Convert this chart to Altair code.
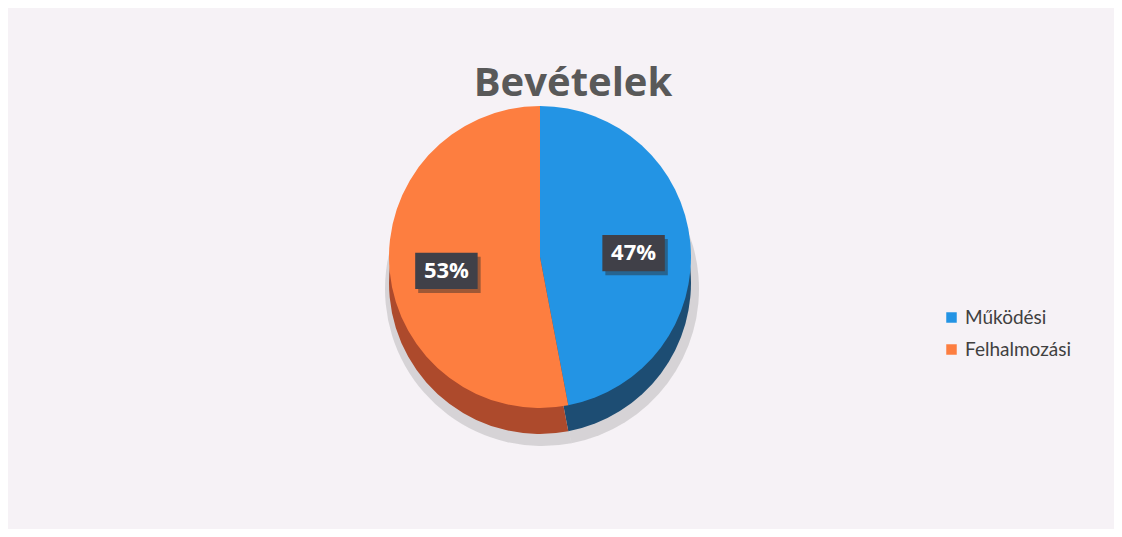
import altair as alt
import pandas as pd

# --- data -------------------------------------------------------------
categories = ["Működési", "Felhalmozási"]
values = [47, 53]
labels = ["47%", "53%"]
order = [1, 2]
title_text = ["Bevételek"]

top_colors = ["#2394e4", "#fd7e40"]
side_colors = ["#1d4d73", "#ad4a2c"]

df = pd.DataFrame({"cat": categories, "value": values, "label": labels, "order": order})

CX, CY, R, DEPTH = 532, 249, 151, 26

base = alt.Chart(df)

theta = alt.Theta("value:Q", stack=True)
ordr = alt.Order("order:Q")

shadow = base.mark_arc(radius=R + 6, color="#9a9a9a", opacity=0.35).encode(
    theta=theta, order=ordr,
    x=alt.value(CX + 2), y=alt.value(CY + DEPTH + 6),
)

side = base.mark_arc(radius=R).encode(
    theta=theta, order=ordr,
    x=alt.value(CX), y=alt.value(CY + DEPTH),
    color=alt.Color("cat:N", scale=alt.Scale(domain=categories, range=side_colors), legend=None),
)

top = base.mark_arc(radius=R).encode(
    theta=theta, order=ordr,
    x=alt.value(CX), y=alt.value(CY),
    color=alt.Color(
        "cat:N",
        scale=alt.Scale(domain=categories, range=top_colors),
        legend=alt.Legend(
            title=None, orient="none", legendX=934, legendY=300,
            symbolType="square", symbolSize=110, labelFont="Lato",
            labelFontSize=19, labelColor="#404040", rowPadding=12,
            symbolStrokeWidth=0,
        ),
    ),
)

lab = base.transform_window(
    cum="sum(value)", sort=[alt.SortField("order")], frame=[None, 0]
).transform_joinaggregate(total="sum(value)").transform_calculate(
    mid="(datum.cum - datum.value/2) / datum.total * 2 * PI",
).transform_calculate(
    lx=f"{CX} + 94 * sin(datum.mid)",
    ly=f"{CY} - 94 * cos(datum.mid) + 5",
)

box_shape = "M-1,-0.58L1,-0.58L1,0.58L-1,0.58Z"
box_shadow = lab.mark_point(shape=box_shape, size=3900, filled=True, color="#2b2b2b",
                            opacity=0.45, xOffset=3, yOffset=4).encode(
    x=alt.X("lx:Q", scale=None), y=alt.Y("ly:Q", scale=None))
box = lab.mark_point(shape=box_shape, size=3900, filled=True, color="#404048",
                     opacity=1).encode(
    x=alt.X("lx:Q", scale=None), y=alt.Y("ly:Q", scale=None))
txt = lab.mark_text(font="Open Sans", fontWeight="bold", fontSize=22, color="white",
                    baseline="middle", align="center").encode(
    x=alt.X("lx:Q", scale=None), y=alt.Y("ly:Q", scale=None), text="label:N")

tdf = pd.DataFrame({"t": title_text})
title = alt.Chart(tdf).mark_text(font="Open Sans", fontWeight="bold", fontSize=40,
                                 color="#595959", align="center", baseline="alphabetic").encode(
    x=alt.value(565), y=alt.value(88), text="t:N")

chart = alt.layer(shadow, side, top, box_shadow, box, txt, title).resolve_scale(
    color="independent"
).properties(
    width=1106, height=521, padding=0, autosize=alt.AutoSizeParams(type="none"),
    background="#f6f2f6",
).configure_view(stroke=None)

chart.save("out.html", embed_options={"renderer": "svg", "actions": False})
